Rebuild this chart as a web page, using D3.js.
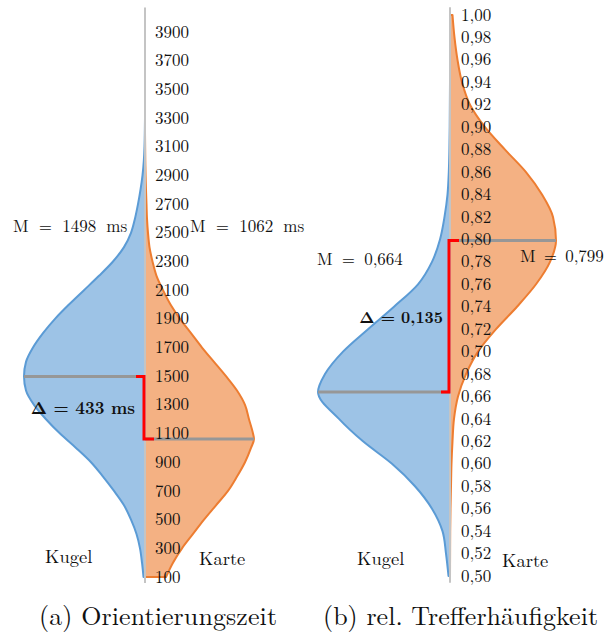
<!DOCTYPE html>
<html><head><meta charset="utf-8">
<script src="https://cdn.jsdelivr.net/npm/d3@7"></script>
<style>
body{margin:0;background:#fff}
svg{display:block}
</style>
</head><body><script>
// ---------- Panel (a): Orientierungszeit (ms) ----------
const ticksA = [100,300,500,700,900,1100,1300,1500,1700,1900,2100,2300,2500,2700,2900,3100,3300,3500,3700,3900];
const kugelA = [[100,1.5],[200,3],[300,5],[400,8.5],[500,14],[600,21],[700,31],[800,42],[900,54],[1000,69],[1100,85],[1200,99],[1300,111],[1400,119],[1500,121],[1600,119],[1700,112],[1800,102],[1900,90],[2000,76],[2100,61],[2200,46],[2300,32],[2400,21],[2500,14],[2600,10],[2700,7],[2800,4.5],[2900,2.5],[3000,1.2],[3100,0.5],[3300,0]];
const karteA = [[100,21],[200,28],[300,37],[400,48],[500,59],[600,71],[700,83],[800,92],[900,100],[1000,106],[1062,109],[1100,108],[1200,104],[1300,100],[1400,92],[1500,81],[1600,69],[1700,57],[1800,46],[1900,35],[2000,25.5],[2100,18],[2200,11.5],[2300,7.5],[2400,4.5],[2500,3],[2600,2],[2700,1.5],[2800,1],[2900,0.6],[3000,0.3],[3200,0]];
const meansA = [1498, 1062];           // Kugel, Karte
const axisExtentA = [58, 4070];
const textsA = ["M = 1498 ms", "M = 1062 ms", "Δ = 433 ms", "(a) Orientierungszeit"];

// ---------- Panel (b): rel. Trefferhäufigkeit ----------
const ticksB = [0.50,0.52,0.54,0.56,0.58,0.60,0.62,0.64,0.66,0.68,0.70,0.72,0.74,0.76,0.78,0.80,0.82,0.84,0.86,0.88,0.90,0.92,0.94,0.96,0.98,1.00];
const kugelB = [[0.50,1.5],[0.52,4],[0.54,7.5],[0.56,18],[0.58,35],[0.60,58],[0.62,87],[0.64,111],[0.664,132],[0.68,125],[0.70,107],[0.72,82],[0.74,56],[0.76,32],[0.78,18],[0.80,10],[0.82,5.5],[0.84,2.5],[0.86,1.2],[0.88,0.6],[0.90,0.3],[0.94,0]];
const karteB = [[0.50,0],[0.52,0.1],[0.54,0.2],[0.56,0.5],[0.58,1],[0.60,1.5],[0.62,2.5],[0.64,4],[0.66,8],[0.68,16],[0.70,28],[0.72,46],[0.74,67],[0.76,86],[0.78,100],[0.799,106],[0.82,103],[0.84,92],[0.86,76],[0.88,55],[0.90,35],[0.92,20],[0.94,12],[0.96,7.5],[0.98,4.5],[1.00,2.5]];
const meansB = [0.664, 0.799];
const axisExtentB = [0.494, 1.007];
const textsB = ["M = 0,664", "M = 0,799", "Δ = 0,135", "(b) rel. Trefferhäufigkeit"];

const groupNames = ["Kugel", "Karte"];

const FONT = '"Latin Modern Roman", "Liberation Serif", serif';
const W = 607, H = 633;
const svg = d3.select("body").append("svg").attr("width", W).attr("height", H);

const C = {
  blueFill: "#9dc3e6", blueLine: "#5b9bd5",
  orangeFill: "#f4b183", orangeLine: "#ed7d31",
  mean: "#979797", red: "#ff0000", axis: "#c4c4c4", text: "#111"
};

const de = d3.formatLocale({decimal: ",", thousands: ".", grouping: [3], currency: ["", "€"]});

function densityAt(arr, v) {
  for (let i = 0; i < arr.length - 1; i++) {
    const [a, da] = arr[i], [b, db] = arr[i + 1];
    if (v >= a && v <= b) return da + (db - da) * (v - a) / (b - a);
  }
  return 0;
}

function txt(g, x, y, size, s) {
  return g.append("text").attr("x", x).attr("y", y)
    .style("font-family", FONT).style("font-size", size + "px").style("fill", C.text)
    .text(s);
}

function panel(cfg) {
  const g = svg.append("g");
  const y = d3.scaleLinear().domain(cfg.domain).range(cfg.range);
  const maxD = d3.max(cfg.kugel.concat(cfg.karte), d => d[1]);
  const w = d3.scaleLinear().domain([0, maxD]).range([0, cfg.halfWidth]);
  const ax = cfg.axisX;

  const areaL = d3.area().curve(d3.curveMonotoneY)
    .y(d => y(d[0])).x0(ax).x1(d => ax - w(d[1]));
  const areaR = d3.area().curve(d3.curveMonotoneY)
    .y(d => y(d[0])).x0(ax).x1(d => ax + w(d[1]));

  g.append("path").attr("d", areaL(cfg.kugel))
    .attr("fill", C.blueFill).attr("stroke", C.blueLine).attr("stroke-width", 2)
    .attr("stroke-linejoin", "round");
  g.append("path").attr("d", areaR(cfg.karte))
    .attr("fill", C.orangeFill).attr("stroke", C.orangeLine).attr("stroke-width", 2)
    .attr("stroke-linejoin", "round");

  g.append("line").attr("x1", ax).attr("x2", ax)
    .attr("y1", y(cfg.axisExtent[0])).attr("y2", y(cfg.axisExtent[1]))
    .attr("stroke", C.axis).attr("stroke-width", 2);

  const [mK, mC] = cfg.means;
  g.append("line").attr("x1", ax - w(densityAt(cfg.kugel, mK))).attr("x2", ax)
    .attr("y1", y(mK)).attr("y2", y(mK)).attr("stroke", C.mean).attr("stroke-width", 3);
  g.append("line").attr("x1", ax).attr("x2", ax + w(densityAt(cfg.karte, mC)))
    .attr("y1", y(mC)).attr("y2", y(mC)).attr("stroke", C.mean).attr("stroke-width", 3);

  g.append("path")
    .attr("d", `M${ax - 9},${y(mK)}H${ax - 1}V${y(mC)}H${ax + 9}`)
    .attr("fill", "none").attr("stroke", C.red).attr("stroke-width", 3);

  g.selectAll("text.tick").data(cfg.ticks).join("text")
    .attr("class", "tick")
    .attr("x", ax + cfg.tickDx).attr("y", d => y(d) + 5.6)
    .style("font-family", FONT).style("font-size", "17px").style("fill", C.text)
    .text(cfg.fmt);

  const t = cfg.texts, p = cfg.textPos;
  txt(g, p.mK[0], p.mK[1], 17, t[0]).style("word-spacing", p.mK[2] + "px");
  txt(g, p.mC[0], p.mC[1], 17, t[1]).style("word-spacing", p.mC[2] + "px");
  txt(g, p.delta[0], p.delta[1], p.delta[2], t[2]).style("font-weight", "bold").attr("text-anchor", "end");
  txt(g, p.kugel[0], p.kugel[1], 18.5, groupNames[0]);
  txt(g, p.karte[0], p.karte[1], 18.5, groupNames[1]);
  txt(g, p.cap[0], p.cap[1], 26, t[3]).attr("textLength", p.cap[2]).attr("lengthAdjust", "spacing");
}

panel({
  domain: [100, 3900], range: [577, 32], axisX: 145, halfWidth: 121,
  kugel: kugelA, karte: karteA, means: meansA, axisExtent: axisExtentA,
  ticks: ticksA, fmt: d => String(d), tickDx: 10, texts: textsA,
  textPos: {mK: [13, 232, 4.5], mC: [190, 232, 4.5], delta: [135, 414, 17], kugel: [45, 563], karte: [199, 565], cap: [39, 625, 238]}
});

panel({
  domain: [0.5, 1.0], range: [576, 15], axisX: 450, halfWidth: 132,
  kugel: kugelB, karte: karteB, means: meansB, axisExtent: axisExtentB,
  ticks: ticksB, fmt: de.format(".2f"), tickDx: 11, texts: textsB,
  textPos: {mK: [317, 265, 3.5], mC: [520, 262, 2.5], delta: [443, 323, 16], kugel: [357, 565], karte: [502, 567], cap: [323, 625, 275]}
});
</script></body></html>
